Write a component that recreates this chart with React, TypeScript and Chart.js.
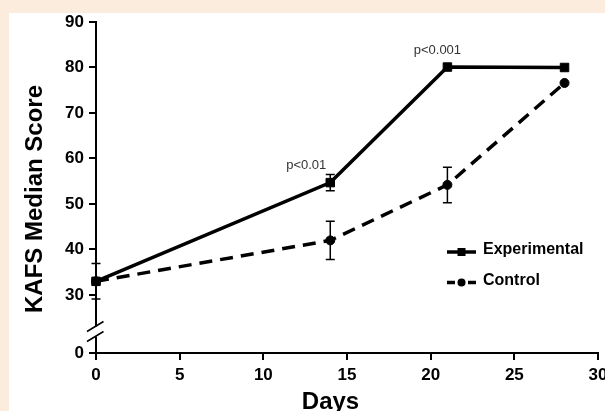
import React, { useEffect, useRef } from "react";
import { Chart, registerables } from "chart.js";

Chart.register(...registerables);

const days = [0, 14, 21, 28];
const experimental = [33, 54.7, 80.1, 80];
const experimentalErr = [0, 1.8, 0, 0];
const control = [33, 42, 54.2, 76.6];
const controlErr = [3.9, 4.2, 3.9, 0];
const seriesNames = ["Experimental", "Control"];
const yTickValues = [0, 30, 40, 50, 60, 70, 80, 90];
const xTickValues = [0, 5, 10, 15, 20, 25, 30];
const annotationDays = [14, 21];
const annotationValues = [54.7, 80.1];
const annotationTexts = ["p<0.01", "p<0.001"];
const xTitle = "Days";
const yTitle = "KAFS Median Score";

const FONT = "'Liberation Sans', Arial, Helvetica, sans-serif";
const Y_BREAK_PLOT = 17.25; // plotted position of the "0" below the axis break
const plotY = (v: number) => (v < 30 ? Y_BREAK_PLOT : v);
const annotationOffsets = [
  [-24, -13.5],
  [-10, -13],
];

export default function App() {
  const ref = useRef<HTMLCanvasElement>(null);

  useEffect(() => {
    document.body.style.margin = "0";
    const canvas = ref.current!;

    const decor = {
      id: "decor",
      beforeDraw(chart: any) {
        const ctx = chart.ctx;
        ctx.save();
        ctx.fillStyle = "#fcecdd";
        ctx.fillRect(0, 0, chart.width, chart.height);
        ctx.fillStyle = "#ffffff";
        ctx.fillRect(9, 13, chart.width - 9, chart.height - 13);
        ctx.restore();
      },
      afterDatasetsDraw(chart: any) {
        const ctx = chart.ctx;
        const xs = chart.scales.x;
        const ys = chart.scales.y;
        const series = [
          [experimental, experimentalErr],
          [control, controlErr],
        ];
        ctx.save();
        ctx.strokeStyle = "#000";
        ctx.lineWidth = 1.5;
        ctx.setLineDash([]);
        series.forEach(([vals, errs]) => {
          vals.forEach((v, i) => {
            const e = errs[i];
            if (!e) return;
            const px = xs.getPixelForValue(days[i]);
            const top = ys.getPixelForValue(v + e);
            const bot = ys.getPixelForValue(v - e);
            ctx.beginPath();
            ctx.moveTo(px, top);
            ctx.lineTo(px, bot);
            ctx.moveTo(px - 4.5, top);
            ctx.lineTo(px + 4.5, top);
            ctx.moveTo(px - 4.5, bot);
            ctx.lineTo(px + 4.5, bot);
            ctx.stroke();
          });
        });
        ctx.restore();
      },
      afterDraw(chart: any) {
        const ctx = chart.ctx;
        const xs = chart.scales.x;
        const ys = chart.scales.y;
        const ax = chart.chartArea.left;
        const yb = chart.chartArea.bottom;
        ctx.save();
        // axis break
        ctx.fillStyle = "#ffffff";
        ctx.fillRect(ax - 3, yb - 26.5, 6, 10);
        ctx.strokeStyle = "#000";
        ctx.lineWidth = 1.5;
        ctx.beginPath();
        ctx.moveTo(ax - 9, yb - 21.5);
        ctx.lineTo(ax + 7.5, yb - 31.5);
        ctx.moveTo(ax - 9, yb - 11.5);
        ctx.lineTo(ax + 7.5, yb - 21.5);
        ctx.stroke();

        // axis titles
        ctx.fillStyle = "#000";
        ctx.font = `bold 24px ${FONT}`;
        ctx.textAlign = "center";
        ctx.textBaseline = "alphabetic";
        ctx.fillText(xTitle, 330.5, 409);
        ctx.save();
        ctx.translate(42, 199);
        ctx.rotate(-Math.PI / 2);
        ctx.fillText(yTitle, 0, 0);
        ctx.restore();

        // annotations
        ctx.font = `13px ${FONT}`;
        ctx.fillStyle = "#333";
        annotationTexts.forEach((t, i) => {
          const px = xs.getPixelForValue(annotationDays[i]);
          const py = ys.getPixelForValue(annotationValues[i]);
          ctx.fillText(t, px + annotationOffsets[i][0], py + annotationOffsets[i][1]);
        });

        // legend
        ctx.strokeStyle = "#000";
        ctx.fillStyle = "#000";
        ctx.lineWidth = 3.5;
        const lx0 = 447;
        const lx1 = 476;
        const lm = 461.5;
        const ly1 = 252;
        const ly2 = 282.5;
        ctx.beginPath();
        ctx.moveTo(lx0, ly1);
        ctx.lineTo(lx1, ly1);
        ctx.stroke();
        ctx.fillRect(lm - 4, ly1 - 4, 8, 8);
        ctx.beginPath();
        ctx.moveTo(lx0, ly2);
        ctx.lineTo(lx0 + 8, ly2);
        ctx.moveTo(lx1 - 8, ly2);
        ctx.lineTo(lx1, ly2);
        ctx.stroke();
        ctx.beginPath();
        ctx.arc(lm, ly2, 4, 0, Math.PI * 2);
        ctx.fill();
        ctx.font = `bold 16px ${FONT}`;
        ctx.textAlign = "left";
        ctx.fillText(seriesNames[0], 483, 254);
        ctx.fillText(seriesNames[1], 483, 285);
        ctx.restore();
      },
    };

    const tickFont = { family: FONT, size: 17, weight: "bold" as const };

    const chart = new Chart(canvas, {
      type: "line",
      data: {
        datasets: [
          {
            label: seriesNames[0],
            data: days.map((d, i) => ({ x: d, y: experimental[i] })),
            borderColor: "#000",
            backgroundColor: "#000",
            borderWidth: 3.5,
            pointStyle: "rect",
            pointRadius: 6,
            pointBorderWidth: 1,
            pointHoverRadius: 6,
            tension: 0,
            clip: false as any,
          },
          {
            label: seriesNames[1],
            data: days.map((d, i) => ({ x: d, y: control[i] })),
            borderColor: "#000",
            backgroundColor: "#000",
            borderWidth: 3.5,
            borderDash: [13, 8],
            pointStyle: "circle",
            pointRadius: 4.5,
            pointBorderWidth: 1,
            pointHoverRadius: 4.5,
            tension: 0,
            clip: false as any,
          },
        ],
      },
      options: {
        animation: false,
        responsive: false,
        devicePixelRatio: 1,
        layout: { padding: { left: 0, right: 3, top: 22, bottom: 0 } },
        plugins: {
          legend: { display: false },
          tooltip: { enabled: false },
          title: { display: false },
        },
        scales: {
          x: {
            type: "linear",
            min: 0,
            max: 30,
            afterBuildTicks: (s: any) => {
              s.ticks = xTickValues.map((v) => ({ value: v }));
            },
            afterFit: (s: any) => {
              s.height = 58;
              s.paddingLeft = 0;
              s.paddingRight = 0;
            },
            grid: {
              drawOnChartArea: false,
              drawTicks: true,
              tickLength: 7,
              tickWidth: 2,
              lineWidth: 2,
              tickColor: "#000",
              color: "#000",
            },
            border: { display: true, color: "#000", width: 2 },
            ticks: {
              color: "#000",
              font: tickFont,
              padding: 5,
              maxRotation: 0,
              autoSkip: false,
              callback: (v: any) => String(v),
            },
          },
          y: {
            type: "linear",
            min: Y_BREAK_PLOT,
            max: 90,
            afterBuildTicks: (s: any) => {
              s.ticks = yTickValues.map((v) => ({ value: plotY(v) }));
            },
            afterFit: (s: any) => {
              s.width = 96;
              s.paddingTop = 0;
              s.paddingBottom = 0;
            },
            grid: {
              drawOnChartArea: false,
              drawTicks: true,
              tickLength: 7,
              tickWidth: 2,
              lineWidth: 2,
              tickColor: "#000",
              color: "#000",
            },
            border: { display: true, color: "#000", width: 2 },
            ticks: {
              color: "#000",
              font: tickFont,
              padding: 5,
              autoSkip: false,
              callback: (_v: any, i: number) => String(yTickValues[i]),
            },
          },
        },
      },
      plugins: [decor],
    });

    return () => chart.destroy();
  }, []);

  return (
    <canvas
      ref={ref}
      width={605}
      height={411}
      style={{ display: "block", width: 605, height: 411 }}
    />
  );
}
